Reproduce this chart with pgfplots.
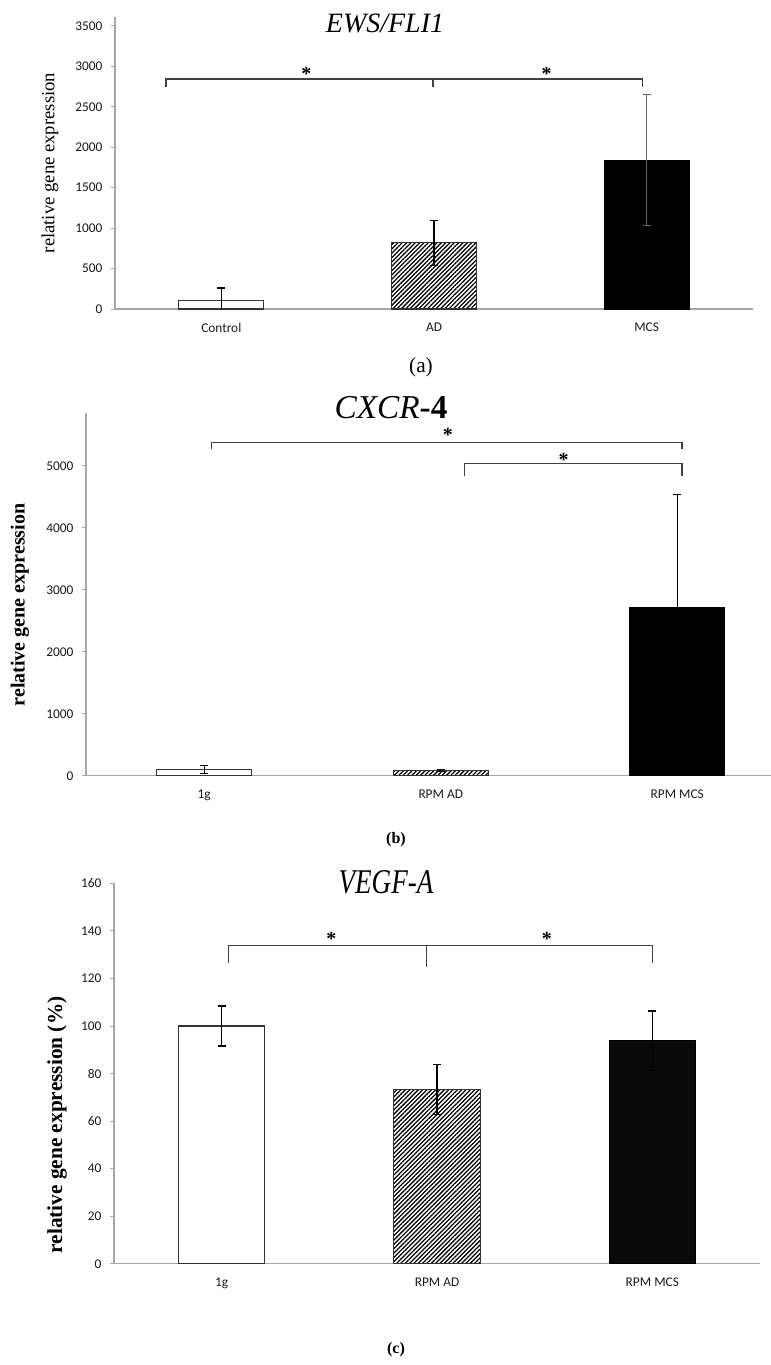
\documentclass[border=0pt]{standalone}
\usepackage{fontspec}
\setmainfont{Liberation Serif}
\newfontfamily\tickfont{Carlito}
\usepackage{pgfplots}
\pgfplotsset{compat=1.18}
\usetikzlibrary{patterns.meta}
\definecolor{axgray}{HTML}{A6A6A6}
\definecolor{brk}{HTML}{404040}

\pgfplotsset{
  excelbar/.style={
    scale only axis,
    anchor=south west,
    ybar, bar width=0.4, bar shift=0pt,
    xmin=-0.5, xmax=2.5, ymin=0,
    xtick={0,1,2},
    major x tick style={draw=none},
    extra x ticks={-0.5,0.5,1.5,2.5},
    extra x tick labels={,,,},
    extra x tick style={major tick length=3.5pt, tick style={draw=axgray, line width=0.75pt}},
    axis x line*=bottom, axis y line*=left,
    axis line style={draw=axgray, line width=0.9pt, -},
    tick align=outside,
    major tick length=3pt,
    y tick style={draw=axgray, line width=0.75pt},
    /pgf/number format/assume math mode=true,
    /pgf/number format/1000 sep={},
    ticklabel style={font=\tickfont\fontsize{10}{12}\selectfont, text=black!90},
    xticklabel style={yshift=-4pt},
    yticklabel style={xshift=-3pt},
    error bars/y dir=both,
    error bars/y explicit,
    error bars/error bar style={line width=0.8pt, black},
    error bars/error mark options={rotate=90, mark size=3pt, line width=0.8pt, black},
  },
}
\tikzset{brack/.style={draw=brk, line width=0.9pt},
  hatch/.style={pattern={Lines[angle=45, distance=2.3pt, line width=0.95pt]}, pattern color=black}}
\newcommand{\sigast}{\fontsize{15}{15}\selectfont\bfseries *}

\begin{document}
\begin{tikzpicture}
\path[use as bounding box] (0,0) rectangle (578.25pt,-1023.75pt);

% ---------------- (a) ----------------
\begin{axis}[excelbar, at={(86.25pt,-231.75pt)}, width=478.5pt, height=219pt,
  ymax=3611, ytick={0,500,...,3500}, xticklabels={Control,AD,MCS}]
\addplot[fill=white, draw=black!80, line width=0.8pt] coordinates {(0,100) +- (0,160)};
\addplot[hatch, draw=black!80, line width=0.8pt] coordinates {(1,820) +- (0,280)};
\addplot[fill=black, draw=black, line width=0.8pt,
  error bars/error bar style={line width=0.8pt, black!60},
  error bars/error mark options={rotate=90, mark size=3pt, line width=0.8pt, black!60}]
  coordinates {(2,1840) +- (0,810)};
\draw[brack] (axis cs:-0.26,2742) -- (axis cs:-0.26,2845) -- (axis cs:1.98,2845) -- (axis cs:1.98,2742);
\draw[brack] (axis cs:0.995,2845) -- (axis cs:0.995,2742);
\node[anchor=base, inner sep=0pt, yshift=-7pt] at (axis cs:0.40,2940) {\sigast};
\node[anchor=base, inner sep=0pt, yshift=-7pt] at (axis cs:1.53,2940) {\sigast};
\end{axis}
\node[anchor=base, font=\fontsize{21}{21}\selectfont\itshape] at (288.75pt,-24pt) {EWS/FLI1};
\node[rotate=90, font=\fontsize{14}{14}\selectfont] at (37.5pt,-122.25pt) {relative gene expression};
\node[font=\fontsize{16}{16}\selectfont] at (315.75pt,-275.25pt) {(a)};

% ---------------- (b) ----------------
\begin{axis}[excelbar, at={(64.5pt,-581.8pt)}, width=532.1pt, height=272pt,
  ymax=5850, ytick={0,1000,...,5000}, xticklabels={1g,RPM AD,RPM MCS}]
\addplot[fill=white, draw=black!80, line width=0.8pt] coordinates {(0,100) +- (0,60)};
\addplot[hatch, draw=black!80, line width=0.8pt] coordinates {(1,85) +- (0,15)};
\addplot[fill=black, draw=black, line width=0.8pt] coordinates {(2,2710) +- (0,1820)};
\draw[brack] (axis cs:0.03,5264) -- (axis cs:0.03,5371) -- (axis cs:2.02,5371) -- (axis cs:2.02,5264);
\draw[brack] (axis cs:1.1,4834) -- (axis cs:1.1,5039) -- (axis cs:2.02,5039) -- (axis cs:2.02,4834);
\node[anchor=base, inner sep=0pt, yshift=-7pt] at (axis cs:1.03,5540) {\sigast};
\node[anchor=base, inner sep=0pt, yshift=-7pt] at (axis cs:1.52,5145) {\sigast};
\end{axis}
\node[anchor=base, font=\fontsize{25}{25}\selectfont] at (293.25pt,-313.5pt) {\textit{CXCR}\textbf{-4}};
\node[rotate=90, font=\fontsize{15}{15}\selectfont\bfseries] at (15pt,-453.75pt) {relative gene expression};
\node[font=\fontsize{12}{12}\selectfont\bfseries] at (297pt,-630pt) {(b)};

% ---------------- (c) ----------------
\begin{axis}[excelbar, at={(85.5pt,-947.8pt)}, width=484.5pt, height=285.3pt,
  ymax=160, ytick={0,20,...,160}, xticklabels={1g,RPM AD,RPM MCS}]
\addplot[fill=white, draw=black!80, line width=0.8pt] coordinates {(0,100) +- (0,8.4)};
\addplot[hatch, draw=black!80, line width=0.8pt] coordinates {(1,73.2) +- (0,10.6)};
\addplot[fill=black!96, draw=black, line width=0.8pt] coordinates {(2,93.8) +- (0,12.5)};
\draw[brack] (axis cs:0.03,126.3) -- (axis cs:0.03,133.8) -- (axis cs:2.0,133.8) -- (axis cs:2.0,126.3);
\draw[brack] (axis cs:0.95,133.8) -- (axis cs:0.95,124.9);
\node[anchor=base, inner sep=0pt, yshift=-7pt] at (axis cs:0.51,137.8) {\sigast};
\node[anchor=base, inner sep=0pt, yshift=-7pt] at (axis cs:1.51,137.8) {\sigast};
\end{axis}
\node[anchor=base, font=\fontsize{26}{26}\selectfont\itshape, xscale=0.78] at (289.5pt,-669.75pt) {VEGF-A};
\node[rotate=90, font=\fontsize{16}{16}\selectfont\bfseries] at (42.75pt,-843.75pt) {relative gene expression (\%)};
\node[font=\fontsize{12}{12}\selectfont\bfseries] at (297pt,-1012.5pt) {(c)};
\end{tikzpicture}
\end{document}
